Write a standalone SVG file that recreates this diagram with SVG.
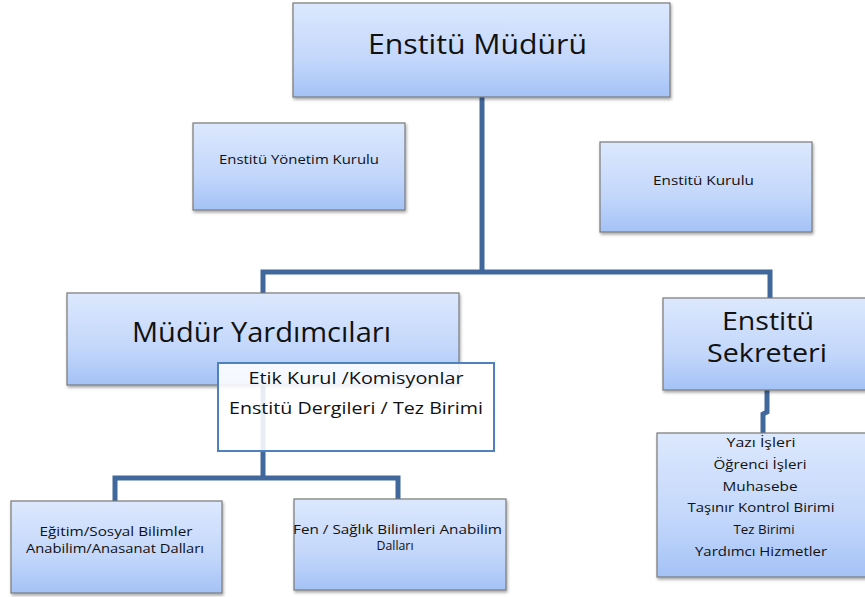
<svg xmlns="http://www.w3.org/2000/svg" width="865" height="597" viewBox="0 0 865 597">
<defs>
<linearGradient id="g" x1="0" y1="0" x2="0" y2="1">
<stop offset="0" stop-color="#dce8fd"/>
<stop offset="0.6" stop-color="#c3d7fb"/>
<stop offset="1" stop-color="#a4c2f6"/>
</linearGradient>
<filter id="sh" x="-10%" y="-10%" width="120%" height="130%">
<feDropShadow dx="1" dy="2" stdDeviation="1.5" flood-color="#000" flood-opacity="0.35"/>
</filter>
<style>
.box{fill:url(#g);stroke:#7a7a7a;stroke-width:1.2;filter:url(#sh)}
.wbox{fill:#ffffff;fill-opacity:0.88;stroke:#4f81bd;stroke-width:2}
.ln{fill:none;stroke:#41689c;stroke-width:5;stroke-linejoin:miter}
text{font-family:"Open Sans","Liberation Sans",sans-serif;fill:#111;text-anchor:middle}
.big{font-size:27px}
.big2{font-size:25px}
.mid{font-size:16.5px}
.sm{font-size:12.5px}
</style>
</defs>
<rect width="865" height="597" fill="#ffffff"/>
<g id="connectors">
<polyline class="ln" points="482,97 482,272"/>
<polyline class="ln" points="263,293 263,272 770,272 770,298"/>
<polyline class="ln" points="767,390 767,412 763,414 763,433"/>
<polyline class="ln" points="263,385 263,478"/>
<polyline class="ln" points="115,501 115,478 398,478 398,499"/>
</g>
<g id="n-mudur">
<rect class="box" x="293" y="3" width="377" height="94"/>
<text class="big" x="477.5" y="54" textLength="219" lengthAdjust="spacingAndGlyphs">Enstitü Müdürü</text>
</g>
<g id="n-yonetim">
<rect class="box" x="193" y="123" width="212" height="87"/>
<text class="sm" x="299" y="164" textLength="160" lengthAdjust="spacingAndGlyphs">Enstitü Yönetim Kurulu</text>
</g>
<g id="n-kurulu">
<rect class="box" x="600" y="142" width="212" height="90"/>
<text class="sm" x="703.5" y="185" textLength="101" lengthAdjust="spacingAndGlyphs">Enstitü Kurulu</text>
</g>
<g id="n-yardimci">
<rect class="box" x="67" y="293" width="392" height="92"/>
<text class="big" x="261.5" y="342" textLength="259" lengthAdjust="spacingAndGlyphs">Müdür Yardımcıları</text>
</g>
<g id="n-etik">
<rect class="wbox" x="218" y="363" width="276" height="88"/>
<text class="mid" x="356" y="384" textLength="215" lengthAdjust="spacingAndGlyphs">Etik Kurul /Komisyonlar</text>
<text class="mid" x="356" y="414" textLength="254" lengthAdjust="spacingAndGlyphs">Enstitü Dergileri / Tez Birimi</text>
</g>
<g id="n-sekreter">
<rect class="box" x="663" y="298" width="215" height="92"/>
<text class="big2" x="768" y="330" textLength="92" lengthAdjust="spacingAndGlyphs">Enstitü</text>
<text class="big2" x="767" y="362" textLength="120" lengthAdjust="spacingAndGlyphs">Sekreteri</text>
</g>
<g id="n-birimler">
<rect class="box" x="657" y="433" width="220" height="144"/>
<text class="sm" x="761" y="447" textLength="69" lengthAdjust="spacingAndGlyphs">Yazı İşleri</text>
<text class="sm" x="760" y="469" textLength="93" lengthAdjust="spacingAndGlyphs">Öğrenci İşleri</text>
<text class="sm" x="760" y="491" textLength="75" lengthAdjust="spacingAndGlyphs">Muhasebe</text>
<text class="sm" x="761" y="512" textLength="147" lengthAdjust="spacingAndGlyphs">Taşınır Kontrol Birimi</text>
<text class="sm" x="764" y="534" textLength="61" lengthAdjust="spacingAndGlyphs">Tez Birimi</text>
<text class="sm" x="761" y="556" textLength="132" lengthAdjust="spacingAndGlyphs">Yardımcı Hizmetler</text>
</g>
<g id="n-egitim">
<rect class="box" x="11" y="501" width="211" height="92"/>
<text class="sm" x="116" y="536" textLength="153" lengthAdjust="spacingAndGlyphs">Eğitim/Sosyal Bilimler</text>
<text class="sm" x="115" y="553" textLength="178" lengthAdjust="spacingAndGlyphs">Anabilim/Anasanat Dalları</text>
</g>
<g id="n-fen">
<rect class="box" x="294" y="499" width="212" height="91"/>
<text class="sm" x="397.5" y="534" textLength="209" lengthAdjust="spacingAndGlyphs">Fen / Sağlık Bilimleri Anabilim</text>
<text class="sm" x="395" y="550" textLength="37" lengthAdjust="spacingAndGlyphs">Dalları</text>
</g>
</svg>
